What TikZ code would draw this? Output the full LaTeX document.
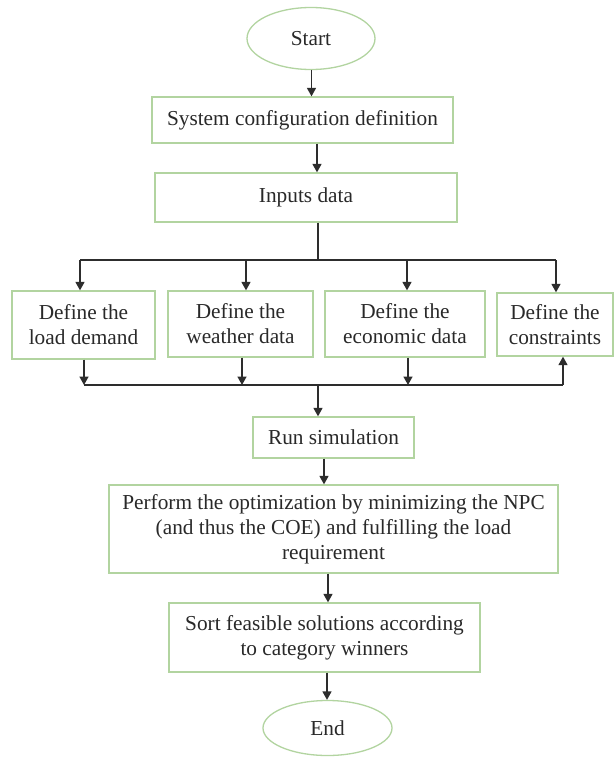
\documentclass[tikz,border=0pt]{standalone}
\usepackage{fontspec}
\setmainfont{Liberation Serif}
\usetikzlibrary{arrows.meta,shapes.geometric}
\definecolor{boxgreen}{RGB}{178,212,160}
\definecolor{linegray}{RGB}{45,45,45}
\begin{document}
\begin{tikzpicture}[x=1pt,y=-1pt,
  every node/.style={font=\fontsize{21.3}{25}\selectfont, text=linegray!90!black, inner sep=0pt, align=center},
  procbox/.style={draw=boxgreen, line width=1.3pt, rectangle},
  termnode/.style={draw=boxgreen, line width=1.3pt, ellipse},
  arr/.style={draw=linegray, line width=1.5pt, -{Triangle[length=8.5pt,width=9pt]}},
  ln/.style={draw=linegray, line width=1.5pt}]
\useasboundingbox[fill=white] (0,0) rectangle (614,757);

\node[termnode, minimum width=128, minimum height=62] (start) at (311,38.5) {Start};
\node[procbox, minimum width=301, minimum height=46] (sys) at (302.5,120) {System configuration definition};
\node[procbox, minimum width=302, minimum height=49] (inp) at (306,197.5) {Inputs data};

\node[procbox, minimum width=143, minimum height=68] (d1) at (83.5,325) {Define the\\load demand};
\node[procbox, minimum width=145, minimum height=66] (d2) at (240.5,324) {Define the\\weather data};
\node[procbox, minimum width=160, minimum height=66] (d3) at (405,324) {Define the\\economic data};
\node[procbox, minimum width=116, minimum height=63] (d4) at (555,324.5) {Define the\\constraints};

\node[procbox, minimum width=161, minimum height=41] (run) at (333.5,437.5) {Run simulation};
\node[procbox, minimum width=449, minimum height=88] (perf) at (333.5,529) {Perform the optimization by minimizing the NPC\\(and thus the COE) and fulfilling the load\\requirement};
\node[procbox, minimum width=311, minimum height=69] (sort) at (324.5,637.5) {Sort feasible solutions according\\to category winners};
\node[termnode, minimum width=129, minimum height=55] (end) at (327.5,728) {End};

\coordinate (tsplit) at (318,260);
\coordinate (bjoin) at (318,385);

% top chain
\draw[arr] ([xshift=0.5pt]start.south) -- ([xshift=0.5pt]start.south |- sys.north);
\draw[arr] ([xshift=14.5pt]sys.south) -- ([xshift=14.5pt]sys.south |- inp.north);
\draw[ln] (inp.south -| tsplit) -- (tsplit);
\draw[ln] ([xshift=-3.5pt]d1.north |- tsplit) -- ([xshift=1pt]d4.north |- tsplit);
\draw[arr] ([xshift=-3.5pt]d1.north |- tsplit) -- ([xshift=-3.5pt]d1.north);
\draw[arr] ([xshift=5.5pt]d2.north |- tsplit) -- ([xshift=5.5pt]d2.north);
\draw[arr] ([xshift=2pt]d3.north |- tsplit) -- ([xshift=2pt]d3.north);
\draw[arr] ([xshift=1pt]d4.north |- tsplit) -- ([xshift=1pt]d4.north);

% bottom merge
\draw[arr] ([xshift=0.5pt]d1.south) -- ([xshift=0.5pt]d1.south |- bjoin);
\draw[arr] ([xshift=1.5pt]d2.south) -- ([xshift=1.5pt]d2.south |- bjoin);
\draw[arr] ([xshift=3pt]d3.south) -- ([xshift=3pt]d3.south |- bjoin);
\draw[ln] ([xshift=0.5pt]d1.south |- bjoin) -- ([xshift=8pt]d4.south |- bjoin);
\draw[arr] ([xshift=8pt]d4.south |- bjoin) -- ([xshift=8pt]d4.south);
\draw[arr] (bjoin) -- (bjoin |- run.north);

% lower chain
\draw[arr] ([xshift=-9.5pt]run.south) -- ([xshift=-9.5pt]run.south |- perf.north);
\draw[arr] ([xshift=-5.5pt]perf.south) -- ([xshift=-5.5pt]perf.south |- sort.north);
\draw[arr] ([xshift=2.5pt]sort.south) -- ([xshift=2.5pt]sort.south |- end.north);
\end{tikzpicture}
\end{document}
